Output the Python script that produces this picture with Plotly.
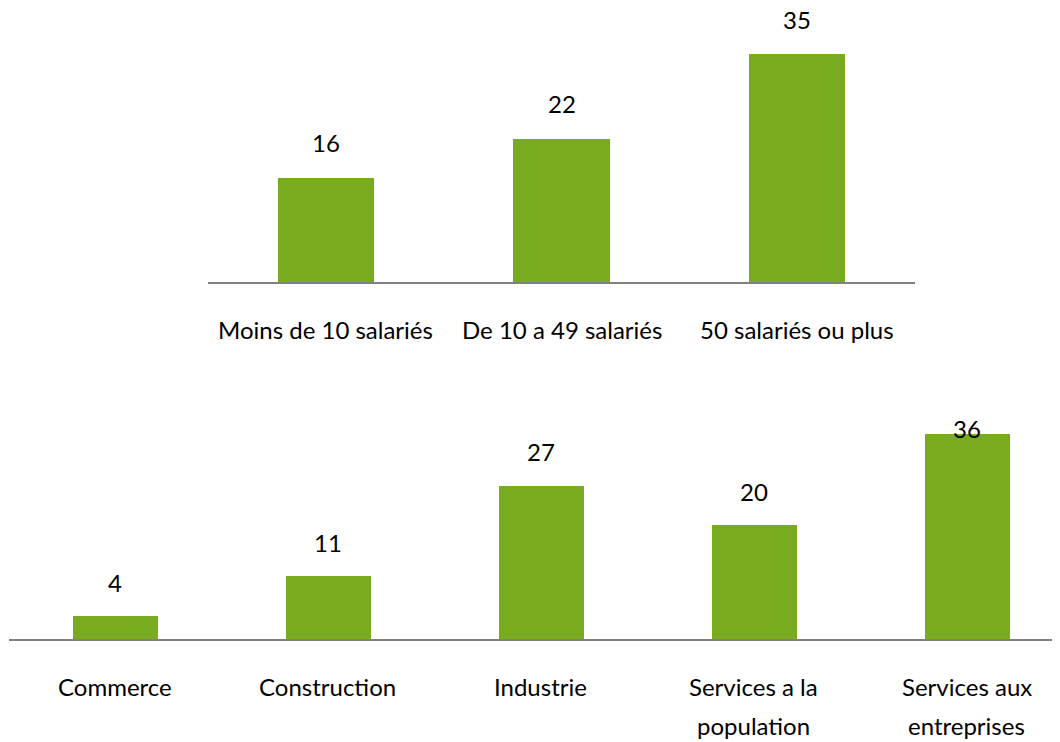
import plotly.graph_objects as go

# top chart: by company size
size_labels = ["Moins de 10 salariés", "De 10 a 49 salariés", "50 salariés ou plus"]
size_values = [16, 22, 35]

# bottom chart: by sector
sector_labels = ["Commerce", "Construction", "Industrie", "Services a la\npopulation", "Services aux\nentreprises"]
sector_values = [4, 11, 27, 20, 36]

GREEN = "#78AC1E"
FONT = "Lato"
FSIZE = 24

# the page puts the plot 8px in from the window's top-left corner
OFF = 8
W, H = 1060 - OFF, 742 - OFF


def fx(px):
    return (px - OFF) / W


def fy(px):
    return (H - (px - OFF)) / H


fig = go.Figure()
fig.add_trace(go.Bar(x=list(range(len(size_values))), y=size_values, width=0.41,
                     marker=dict(color=GREEN, line=dict(width=0)),
                     xaxis="x", yaxis="y", hoverinfo="y", showlegend=False))
fig.add_trace(go.Bar(x=list(range(len(sector_values))), y=sector_values, width=0.40,
                     marker=dict(color=GREEN, line=dict(width=0)),
                     xaxis="x2", yaxis="y2", hoverinfo="y", showlegend=False))

annotations = []


def add_labels(values, labels, xref, yref, offset, ytop):
    for i, v in enumerate(values):
        # value label above the bar, kept inside the plot area
        annotations.append(dict(x=i, y=min(v + offset, ytop), xref=xref, yref=yref,
                                text=str(v), showarrow=False, yanchor="middle",
                                font=dict(family=FONT, size=FSIZE, color="black")))
        for j, line in enumerate(labels[i].split("\n")):
            annotations.append(dict(x=i, y=0, xref=xref, yref=yref, text=line,
                                    showarrow=False, yanchor="middle",
                                    yshift=-47 - 39 * j,
                                    font=dict(family=FONT, size=FSIZE, color="black")))


add_labels(size_values, size_labels, "x", "y", 5.4, 41)
add_labels(sector_values, sector_labels, "x2", "y2", 6.0, 37.1)

axis_line = dict(showline=True, linecolor="#808080", linewidth=1.5,
                 showgrid=False, zeroline=False, showticklabels=False, ticks="")
yaxis_hidden = dict(visible=False, showgrid=False, zeroline=False)

fig.update_layout(
    width=W, height=H,
    margin=dict(l=0, r=0, t=0, b=0),
    paper_bgcolor="white", plot_bgcolor="white",
    font=dict(family=FONT, size=FSIZE, color="black"),
    xaxis=dict(domain=[fx(208), fx(915)], range=[-0.5, 2.5], anchor="y", **axis_line),
    yaxis=dict(domain=[fy(282), fy(12)], range=[0, 41.5], **yaxis_hidden),
    xaxis2=dict(domain=[max(fx(8.5), 0), 1], range=[-0.5, 4.437], anchor="y2", **axis_line),
    yaxis2=dict(domain=[fy(639), fy(423)], range=[0, 38], **yaxis_hidden),
    annotations=annotations,
    bargap=0,
)

fig.write_html("out.html")
